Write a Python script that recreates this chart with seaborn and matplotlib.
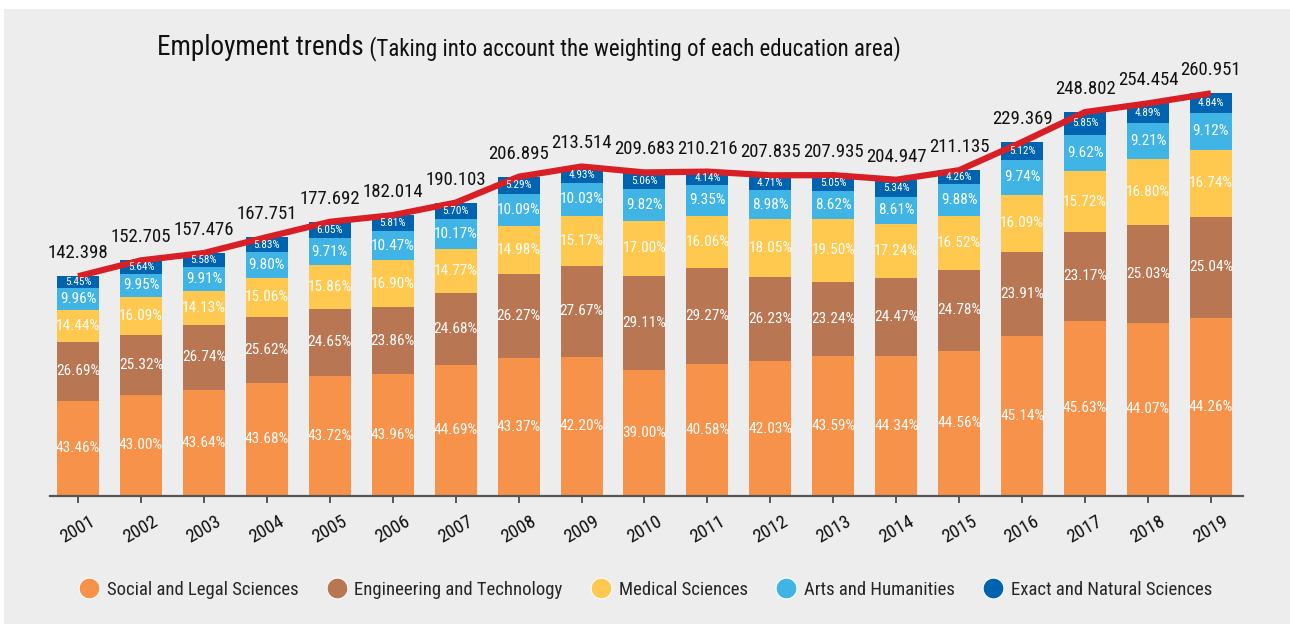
import numpy as np
import pandas as pd
import seaborn as sns
import matplotlib.pyplot as plt
from matplotlib.patches import Rectangle
from matplotlib.lines import Line2D

years = [str(y) for y in range(2001, 2020)]
totals = [142.398, 152.705, 157.476, 167.751, 177.692, 182.014, 190.103, 206.895, 213.514,
          209.683, 210.216, 207.835, 207.935, 204.947, 211.135, 229.369, 248.802, 254.454, 260.951]

areas = ["Social and Legal Sciences", "Engineering and Technology", "Medical Sciences",
         "Arts and Humanities", "Exact and Natural Sciences"]
social = [43.46, 43.00, 43.64, 43.68, 43.72, 43.96, 44.69, 43.37, 42.20, 39.00,
          40.58, 42.03, 43.59, 44.34, 44.56, 45.14, 45.63, 44.07, 44.26]
engineering = [26.69, 25.32, 26.74, 25.62, 24.65, 23.86, 24.68, 26.27, 27.67, 29.11,
               29.27, 26.23, 23.24, 24.47, 24.78, 23.91, 23.17, 25.03, 25.04]
medical = [14.44, 16.09, 14.13, 15.06, 15.86, 16.90, 14.77, 14.98, 15.17, 17.00,
           16.06, 18.05, 19.50, 17.24, 16.52, 16.09, 15.72, 16.80, 16.74]
arts = [9.96, 9.95, 9.91, 9.80, 9.71, 10.47, 10.17, 10.09, 10.03, 9.82,
        9.35, 8.98, 8.62, 8.61, 9.88, 9.74, 9.62, 9.21, 9.12]
exact = [5.45, 5.64, 5.58, 5.83, 6.05, 5.81, 5.70, 5.29, 4.93, 5.06,
         4.14, 4.71, 5.05, 5.34, 4.26, 5.12, 5.85, 4.89, 4.84]

colors = ["#F7924A", "#B97652", "#FFC84F", "#3FB4E5", "#0063AF"]
red = "#D91F26"
bg = "#EDEDED"

sns.set_style("white")
plt.rcParams["font.family"] = ["Roboto Condensed", "Liberation Sans Narrow",
                               "DejaVu Sans Condensed", "Roboto", "DejaVu Sans"]
plt.rcParams["font.stretch"] = "condensed"

pct = np.array([social, engineering, medical, arts, exact])
tot = np.array(totals)
cum = np.cumsum(pct, axis=0) / pct.sum(axis=0) * tot  # top of each segment

fig = plt.figure(figsize=(12.9, 6.24), dpi=100, facecolor="white")
fig.patches.append(Rectangle((4 / 1290, 0), 1, 1 - 9 / 624, transform=fig.transFigure,
                             facecolor=bg, edgecolor="none", zorder=-10))
ax = fig.add_axes([50 / 1290, 128 / 624, 1193 / 1290, 447.5 / 624])
ax.set_facecolor("none")

# draw from the full stack down so every layer covers the one above it
for k in range(4, -1, -1):
    sns.barplot(x=years, y=cum[k], color=colors[k], saturation=1, width=0.667,
                linewidth=0, errorbar=None, ax=ax, zorder=2)

sns.lineplot(x=years, y=totals, color=red, linewidth=4.5, ax=ax, zorder=4,
             solid_capstyle="butt")

bottoms = np.vstack([np.zeros(len(years)), cum[:-1]])
for k in range(5):
    for i in range(len(years)):
        yc = (bottoms[k, i] + cum[k, i]) / 2
        fs = 8 if k == 4 else 11
        ax.text(i, yc, f"{pct[k, i]:.2f}%", ha="center", va="center",
                color="white", fontsize=fs, zorder=5)

for i, t in enumerate(totals):
    ax.annotate(f"{t:.3f}", (i, t), xytext=(0, 13), textcoords="offset points",
                ha="center", va="baseline", fontsize=13.5, color="#111111", zorder=6)

ax.set_xlim(-0.445, 18.51)
ax.set_ylim(0, 290)
ax.set_yticks([])
ax.set_xlabel("")
ax.set_ylabel("")
for s in ["left", "top", "right"]:
    ax.spines[s].set_visible(False)
ax.spines["bottom"].set_color("#555555")
ax.spines["bottom"].set_linewidth(1.6)
ax.tick_params(axis="x", length=5, width=1.4, color="#555555", pad=7,
               labelsize=13.5, labelcolor="#111111", bottom=True)
for lab in ax.get_xticklabels():
    lab.set_rotation(30)
    lab.set_ha("center")

t1 = fig.text(157 / 1290, 1 - 61 / 624, "Employment trends", fontsize=19.5,
              color="#111111", va="bottom")
fig.canvas.draw()
ax.annotate(" (Taking into account the weighting of each education area)",
            xy=(1, 0), xycoords=t1, va="bottom", fontsize=16.5, color="#111111")

handles = [Line2D([], [], marker="o", linestyle="none", markersize=15,
                  markerfacecolor=c, markeredgecolor="white", markeredgewidth=0.8)
           for c in colors]
fig.legend(handles, areas, loc="center", bbox_to_anchor=(0.5, 1 - 590 / 624), ncol=5,
           frameon=False, fontsize=13.5, handletextpad=0.35, columnspacing=1.45,
           handlelength=1.2)

fig.savefig("out.png", dpi=100, facecolor=fig.get_facecolor())
